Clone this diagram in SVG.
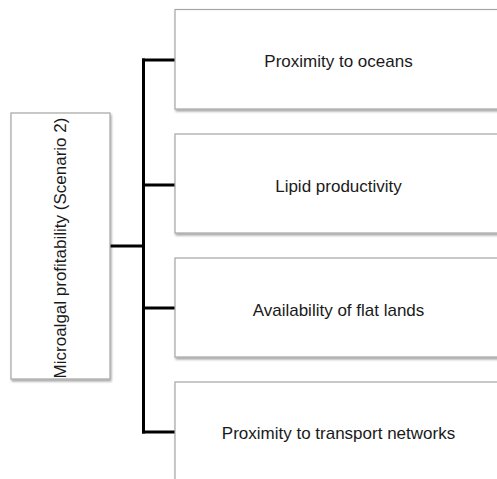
<svg xmlns="http://www.w3.org/2000/svg" width="497" height="479" viewBox="0 0 497 479">
  <style>
    .box { fill: #ffffff; stroke: #a6a6a6; stroke-width: 1.2; filter: url(#shadow); }
    .label { font-family: "Liberation Sans", Arial, sans-serif; font-size: 17px; fill: #1a1a1a; text-anchor: middle; }
    .wire { fill: none; stroke: #000000; stroke-width: 3; stroke-linecap: square; }
  </style>
  <defs>
    <filter id="shadow" x="-10%" y="-10%" width="120%" height="130%">
      <feGaussianBlur in="SourceAlpha" stdDeviation="1.2"/>
      <feOffset dx="1" dy="2" result="b"/>
      <feComponentTransfer><feFuncA type="linear" slope="0.35"/></feComponentTransfer>
      <feMerge><feMergeNode/><feMergeNode in="SourceGraphic"/></feMerge>
    </filter>
  </defs>
  <rect width="497" height="479" fill="#ffffff"/>

  <g id="connectors">
    <path class="wire" d="M110,246 H143.5"/>
    <path class="wire" d="M143.5,60 V432"/>
    <path class="wire" d="M143.5,60 H174"/>
    <path class="wire" d="M143.5,185 H174"/>
    <path class="wire" d="M143.5,308 H174"/>
    <path class="wire" d="M143.5,432 H174"/>
  </g>

  <g id="root">
    <rect class="box" x="11" y="113" width="99" height="266"/>
    <text class="label" transform="translate(66,248) rotate(-90)">Microalgal profitability (Scenario 2)</text>
  </g>

  <g id="oceans">
    <rect class="box" x="175" y="9.5" width="327" height="99.5"/>
    <text class="label" x="338.5" y="67">Proximity to oceans</text>
  </g>

  <g id="lipid">
    <rect class="box" x="175" y="134" width="327" height="99"/>
    <text class="label" x="338.5" y="191.5">Lipid productivity</text>
  </g>

  <g id="flat-lands">
    <rect class="box" x="175" y="258" width="327" height="99"/>
    <text class="label" x="338.5" y="315.5">Availability of flat lands</text>
  </g>

  <g id="transport">
    <rect class="box" x="175" y="382" width="327" height="110"/>
    <text class="label" x="338.5" y="439">Proximity to transport networks</text>
  </g>
</svg>
